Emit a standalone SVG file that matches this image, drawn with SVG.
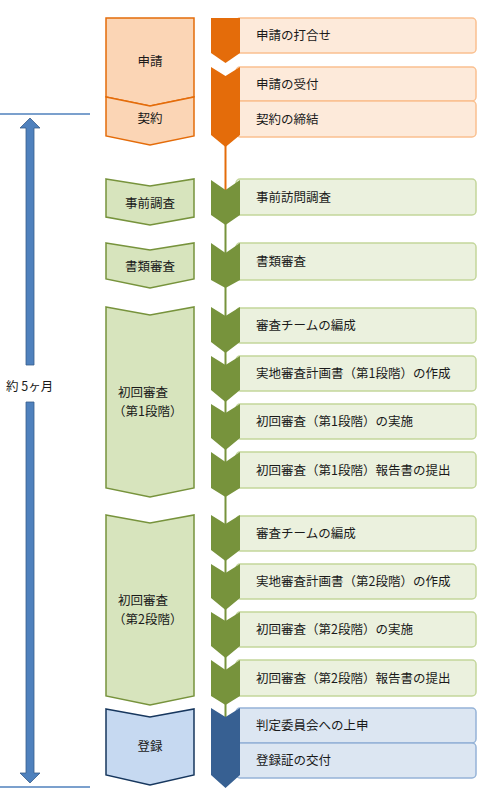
<svg xmlns="http://www.w3.org/2000/svg" width="491" height="793" viewBox="0 0 491 793">
<style>
text{font-family:"Noto Sans CJK JP","Noto Sans",sans-serif;font-size:12.5px;fill:#1a1a1a}
.c{text-anchor:middle}
.lo{fill:#FBD5B5;stroke:#E46C0A;stroke-width:1.5}
.lg{fill:#D7E4BD;stroke:#77933C;stroke-width:1.5}
.lb{fill:#C6D9F1;stroke:#17375E;stroke-width:1.5}
.ro{fill:#E46C0A}
.rg{fill:#77933C}
.rb{fill:#376092}
.bo{fill:#FDEADA;stroke:#FAC090;stroke-width:1.5}
.bg{fill:#EBF1DE;stroke:#C3D69B;stroke-width:1.5}
.bb{fill:#DCE6F2;stroke:#95B3D7;stroke-width:1.5}
</style>
<g id="scale">
<line x1="0" y1="114" x2="90" y2="114" stroke="#4F81BD" stroke-width="1.5"/>
<line x1="0" y1="787" x2="90" y2="787" stroke="#4F81BD" stroke-width="1.5"/>
<path d="M30,118 L40,128 H34 V365 H26 V128 H20 Z" fill="#4F81BD" stroke="#385D8A" stroke-width="0.8"/>
<path d="M30,783 L40,773 H34 V402 H26 V773 H20 Z" fill="#4F81BD" stroke="#385D8A" stroke-width="0.8"/>
<text x="6" y="391">約 5ヶ月</text>
</g>
<g id="connectors">
<line x1="225.5" y1="140" x2="225.5" y2="192" stroke="#E46C0A" stroke-width="2"/>
<line x1="225.5" y1="220" x2="225.5" y2="717" stroke="#77933C" stroke-width="2"/>
</g>
<g id="phase-apply"><path class="lo" d="M106,18 H194 V97 L150,106 L106,97 Z"/><text class="c" x="150" y="66">申請</text></g>
<g id="phase-contract"><path class="lo" d="M106,97 L150,106 L194,97 V136 L150,145 L106,136 Z"/><text class="c" x="150" y="123">契約</text></g>
<g id="phase-pre"><path class="lg" d="M106,179 L150,186 L194,179 V217 L150,225 L106,217 Z"/><text class="c" x="150" y="208">事前調査</text></g>
<g id="phase-doc"><path class="lg" d="M106,243 L150,250 L194,243 V279 L150,288 L106,279 Z"/><text class="c" x="150" y="271">書類審査</text></g>
<g id="phase-stage1"><path class="lg" d="M106,307 L150,315 L194,307 V488 L150,497 L106,488 Z"/><text x="118" y="397">初回審査</text><text x="113" y="416">（第1段階）</text></g>
<g id="phase-stage2"><path class="lg" d="M106,515 L150,523 L194,515 V696 L150,705 L106,696 Z"/><text x="118" y="605">初回審査</text><text x="113" y="624">（第2段階）</text></g>
<g id="phase-reg"><path class="lb" d="M106,709 L150,717 L194,709 V775 L150,785 L106,775 Z"/><text class="c" x="150" y="751">登録</text></g>

<g id="step-1"><rect class="bo" x="236" y="18" width="240" height="35" rx="4"/><path class="ro" d="M211,18 H240 V53 L225.5,63 L211,53 Z"/><text x="256" y="40">申請の打合せ</text></g>
<g id="step-2"><rect class="bo" x="236" y="67" width="240" height="34" rx="4"/><rect class="bo" x="236" y="101" width="240" height="36" rx="4"/><path class="ro" d="M211,67 L225.5,76 L240,67 V135 L225.5,147 L211,135 Z"/><text x="256" y="88.5">申請の受付</text><text x="256" y="123.5">契約の締結</text></g>
<g id="step-3"><rect class="bg" x="236" y="179" width="240" height="36" rx="4"/><path class="rg" d="M211,180 L225.5,190 L240,180 V215 L225.5,225 L211,215 Z"/><text x="256" y="201.5">事前訪問調査</text></g>
<g id="step-4"><rect class="bg" x="236" y="243" width="240" height="37" rx="4"/><path class="rg" d="M211,243 L225.5,253 L240,243 V280 L225.5,288 L211,280 Z"/><text x="256" y="266">書類審査</text></g>

<g id="step-5"><rect class="bg" x="236" y="308" width="240" height="35" rx="4"/><path class="rg" d="M211,307 L225.5,316 L240,307 V342 L225.5,353 L211,342 Z"/><text x="256" y="330">審査チームの編成</text></g>
<g id="step-6"><rect class="bg" x="236" y="356" width="240" height="35" rx="4"/><path class="rg" d="M211,356 L225.5,365 L240,356 V390 L225.5,402 L211,390 Z"/><text x="256" y="378">実地審査計画書（第1段階）の作成</text></g>
<g id="step-7"><rect class="bg" x="236" y="404" width="240" height="35" rx="4"/><path class="rg" d="M211,404 L225.5,413 L240,404 V438 L225.5,450 L211,438 Z"/><text x="256" y="426">初回審査（第1段階）の実施</text></g>
<g id="step-8"><rect class="bg" x="236" y="452" width="240" height="36" rx="4"/><path class="rg" d="M211,452 L225.5,462 L240,452 V488 L225.5,497 L211,488 Z"/><text x="256" y="474.5">初回審査（第1段階）報告書の提出</text></g>

<g id="step-9"><rect class="bg" x="236" y="516" width="240" height="35" rx="4"/><path class="rg" d="M211,515 L225.5,524 L240,515 V550 L225.5,561 L211,550 Z"/><text x="256" y="538">審査チームの編成</text></g>
<g id="step-10"><rect class="bg" x="236" y="564" width="240" height="35" rx="4"/><path class="rg" d="M211,564 L225.5,573 L240,564 V598 L225.5,610 L211,598 Z"/><text x="256" y="586">実地審査計画書（第2段階）の作成</text></g>
<g id="step-11"><rect class="bg" x="236" y="612" width="240" height="35" rx="4"/><path class="rg" d="M211,612 L225.5,621 L240,612 V646 L225.5,658 L211,646 Z"/><text x="256" y="634">初回審査（第2段階）の実施</text></g>
<g id="step-12"><rect class="bg" x="236" y="660" width="240" height="36" rx="4"/><path class="rg" d="M211,660 L225.5,670 L240,660 V696 L225.5,705 L211,696 Z"/><text x="256" y="682.5">初回審査（第2段階）報告書の提出</text></g>

<g id="step-13"><rect class="bb" x="236" y="708" width="240" height="35" rx="4"/><rect class="bb" x="236" y="743" width="240" height="35" rx="4"/><path class="rb" d="M211,708 L225.5,717 L240,708 V775 L225.5,788 L211,775 Z"/><text x="256" y="730">判定委員会への上申</text><text x="256" y="765">登録証の交付</text></g>
</svg>
